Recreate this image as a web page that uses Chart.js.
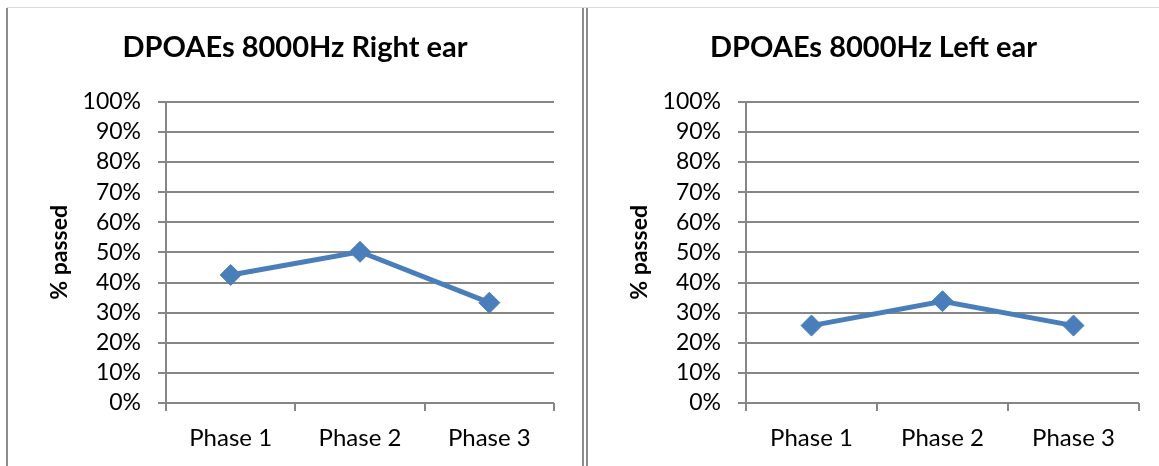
<!DOCTYPE html>
<html>
<head>
<meta charset="utf-8">
<script src="https://cdn.jsdelivr.net/npm/chart.js@4.4.1/dist/chart.umd.min.js"></script>
<style>
  html,body{margin:0;padding:0;background:#fff;}
  body{width:1159px;height:466px;position:relative;overflow:hidden;}
  .topline{position:absolute;left:7px;top:7px;width:1152px;height:1px;background:#d9d9d9;}
  .vl{position:absolute;top:8px;bottom:0;width:2px;background:#8c8c8c;}
  .panel{position:absolute;top:8px;height:458px;}
</style>
</head>
<body>
<div class="topline"></div>
<div class="vl" style="left:6px"></div>
<div class="vl" style="left:582px"></div>
<div class="vl" style="left:586px"></div>
<div class="panel" style="left:8px;width:574px"><canvas id="cRight"></canvas></div>
<div class="panel" style="left:588px;width:571px"><canvas id="cLeft"></canvas></div>
<script>
const categories = ['Phase 1', 'Phase 2', 'Phase 3'];
const rightEar = [42.5, 50.2, 33.3];
const leftEar = [25.7, 33.8, 25.7];

const C = {
  line:'#4a7ebb', grid:'#868686', text:'#000',
  font:"Lato, 'Open Sans', sans-serif"
};
Chart.defaults.font.family = C.font;
Chart.defaults.color = C.text;

// pad = equal side padding so the title stays centred on the panel
function earChart(id, title, values, {pad=28}={}){
  new Chart(document.getElementById(id), {
    type:'line',
    data:{labels:categories, datasets:[{
      data:values, borderColor:C.line, backgroundColor:C.line, borderWidth:5,
      pointStyle:'rectRot', pointRadius:10.5, pointHoverRadius:10.5,
      pointBackgroundColor:C.line, pointBorderColor:C.line, pointBorderWidth:1,
      tension:0, fill:false
    }]},
    options:{
      responsive:true, maintainAspectRatio:false, animation:false,
      layout:{padding:{left:pad, right:pad, top:0, bottom:0}},
      plugins:{
        legend:{display:false}, tooltip:{enabled:false},
        title:{display:true, text:title, color:C.text,
          font:{size:29, weight:'bold', lineHeight:1.2}, padding:{top:22, bottom:37}}
      },
      scales:{
        x:{
          offset:true,
          grid:{offset:true, drawOnChartArea:false, color:C.grid, lineWidth:2, tickLength:8},
          border:{display:false},
          ticks:{color:C.text, font:{size:24}, padding:13},
          afterFit:(s)=>{ s.height = 63; }
        },
        y:{
          min:0, max:100,
          grid:{color:C.grid, lineWidth:2, tickLength:8},
          border:{color:C.grid, width:2},
          ticks:{stepSize:10, autoSkip:false, color:C.text, font:{size:23}, padding:17, callback:(v)=>v+'%'},
          title:{display:true, text:'% passed', color:C.text, font:{size:23, weight:'bold'}, padding:{top:38-pad}},
          afterFit:(s)=>{ s.width = 158 - pad; }
        }
      }
    }
  });
}

earChart('cRight', 'DPOAEs 8000Hz Right ear', rightEar, {pad:28});
earChart('cLeft', 'DPOAEs 8000Hz Left ear', leftEar, {pad:20});
</script>
</body>
</html>
